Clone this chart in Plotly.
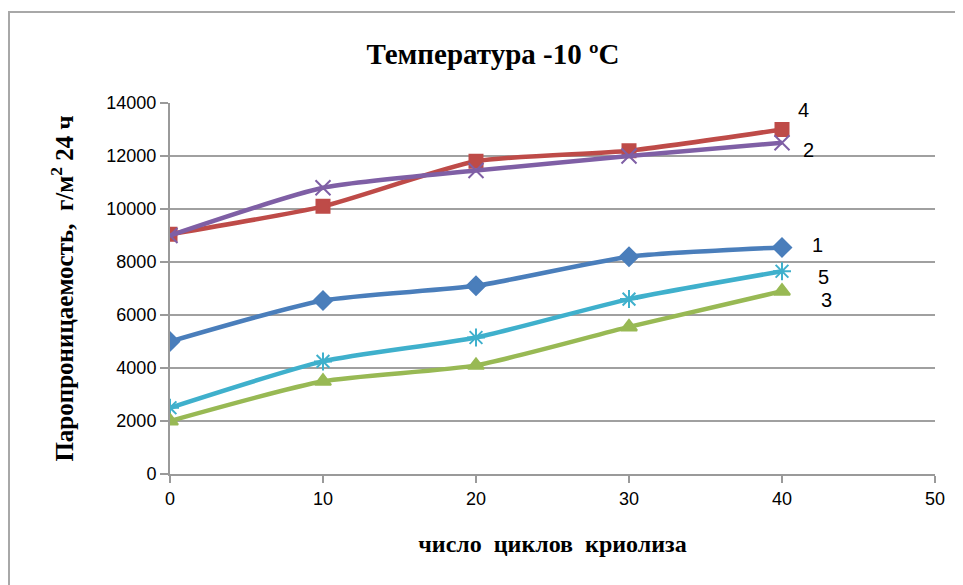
import plotly.graph_objects as go

cycles = [0, 10, 20, 30, 40]
s1 = [5000, 6550, 7100, 8200, 8550]
s2 = [9000, 10800, 11450, 12000, 12500]
s3 = [2000, 3500, 4100, 5550, 6900]
s4 = [9050, 10100, 11800, 12200, 13000]
s5 = [2500, 4250, 5150, 6600, 7650]
labels = ["1", "2", "3", "4", "5"]
y_ticks = [0, 2000, 4000, 6000, 8000, 10000, 12000, 14000]
y_ticktext = ["0", "2000", "4000", "6000", "8000", "10000", "12000", "14000"]
x_ticks = [0, 10, 20, 30, 40, 50]

fig = go.Figure()
series = [
    (s1, "#4a7ebb", "diamond", 14),
    (s4, "#be4b48", "square", 13),
    (s2, "#7f5fa5", "x-thin", 15),
    (s5, "#3fb0cc", "asterisk", 15),
    (s3, "#98b954", "triangle-up", 14),
]
for vals, col, sym, sz in series:
    fig.add_trace(go.Scatter(
        x=cycles, y=vals, mode="lines+markers",
        line=dict(color=col, width=4.5, shape="spline", smoothing=0.6),
        marker=dict(symbol=sym, size=sz, color=col,
                    line=dict(color=col, width=2)),
        showlegend=False,
    ))

# series labels at line ends
ann = [
    ("4", 41.4, 13730),
    ("2", 41.7, 12230),
    ("1", 42.35, 8640),
    ("5", 42.7, 7430),
    ("3", 42.9, 6570),
]
for t, xv, yv in ann:
    fig.add_annotation(x=xv, y=yv, text=t, showarrow=False,
                       font=dict(family="Liberation Sans", size=20, color="#000"))

fig.update_layout(
    width=963, height=585,
    paper_bgcolor="white", plot_bgcolor="white",
    margin=dict(l=162, r=36, t=95, b=119),
    title=dict(text="<b>Температура -10 ºC</b>", x=(493 - 8) / 963, xanchor="center",
               y=1 - (54 - 8) / 585, yanchor="middle",
               font=dict(family="Liberation Serif", size=29, color="#000")),
    xaxis=dict(range=[0, 50], tickvals=x_ticks, showgrid=False,
               showline=True, linecolor="#9a9a9a", linewidth=2,
               ticks="outside", ticklen=7, tickcolor="#9a9a9a", tickwidth=2,
               tickfont=dict(family="Liberation Sans", size=18, color="#000"),
               zeroline=False,
               title=dict(text="<b>число  циклов  криолиза</b>", standoff=28,
                          font=dict(family="Liberation Serif", size=24, color="#000"))),
    yaxis=dict(range=[0, 14000], tickvals=y_ticks, ticktext=y_ticktext, showgrid=True,
               gridcolor="#a0a0a0", gridwidth=2,
               showline=True, linecolor="#9a9a9a", linewidth=2,
               ticks="outside", ticklen=8, tickcolor="#9a9a9a", tickwidth=2,
               tickfont=dict(family="Liberation Sans", size=18, color="#000"),
               zeroline=False,
               title=dict(text="<b>Паропроницаемость,  г/м<sup>2</sup> 24 ч</b>", standoff=26,
                          font=dict(family="Liberation Serif", size=25, color="#000"))),
)

# outer chart border (top and left visible)
fig.add_shape(type="rect", xref="paper", yref="paper",
              x0=(1 - 162) / 765, x1=1.3, y0=-0.5, y1=1 + (95 - 4) / 371,
              line=dict(color="#a8a8a8", width=2), fillcolor="rgba(0,0,0,0)", layer="below")

fig.write_html("out.html")
